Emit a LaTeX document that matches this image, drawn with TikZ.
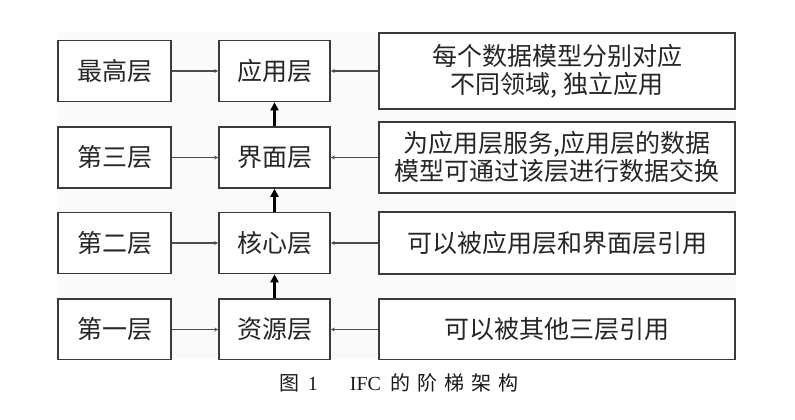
\documentclass[tikz,border=0pt]{standalone}
\usepackage{fontspec}
\setmainfont{Liberation Serif}
\newfontfamily\cjk{Noto Sans CJK SC}
\usetikzlibrary{arrows.meta}
\definecolor{boxline}{HTML}{3A3A3A}
\definecolor{bgfill}{HTML}{FAFAFA}
\begin{document}
\begin{tikzpicture}[x=1pt,y=-1pt,
  box/.style={draw=boxline, line width=1.6pt, fill=white, inner sep=0pt,
    font=\cjk\fontsize{25}{28}\selectfont, align=center, text=black!85},
  lbox/.style={box, minimum width=113pt, minimum height=61pt},
  mbox/.style={box, minimum width=111pt, minimum height=61pt},
  rbox/.style={box, minimum width=356pt},
  hline/.style={draw=black!70, line width=1.4pt, -{Stealth[length=4pt,width=4pt]}},
  vline/.style={draw=black, line width=2.4pt, -{Triangle[length=8pt,width=8pt]}},
  captext/.style={font=\fontsize{20}{24}\selectfont, text=black!90, inner sep=0pt}
]
\useasboundingbox (0,0) rectangle (795,420);
\fill[bgfill] (58,32) rectangle (736,359);
\begin{scope}
\clip (0,0) rectangle (795,359.5);
% left column
\node[lbox] (l1) at (114.5,71) {最高层};
\node[lbox] (l2) at (114.5,157.5) {第三层};
\node[lbox] (l3) at (114.5,243) {第二层};
\node[lbox] (l4) at (114.5,329.5) {第一层};
% middle column
\node[mbox] (m1) at (274.5,71) {应用层};
\node[mbox] (m2) at (274.5,157.5) {界面层};
\node[mbox] (m3) at (274.5,243) {核心层};
\node[mbox] (m4) at (274.5,329.5) {资源层};
% right column
\node[rbox, minimum height=76pt] (r1) at (557,71) {每个数据模型分别对应\\不同领域, 独立应用};
\node[rbox, minimum height=71pt] (r2) at (557,157.5) {为应用层服务,应用层的数据\\模型可通过该层进行数据交换};
\node[rbox, minimum height=62pt] (r3) at (557,243) {可以被应用层和界面层引用};
\node[rbox, minimum height=61pt] (r4) at (557,329.5) {可以被其他三层引用};
% connectors
\foreach \i in {1,2,3,4}{
  \draw[hline] (l\i) -- (m\i);
  \draw[hline] (r\i) -- (m\i);
}
\draw[vline] (m2) -- (m1);
\draw[vline] (m3) -- (m2);
\draw[vline] (m4) -- (m3);
\end{scope}
\node[captext] (cap) at (399,383) {{\cjk 图}\hspace{8pt}1\hspace{32pt}IFC\hspace{9pt}{\cjk 的\hspace{7pt}阶\hspace{7pt}梯\hspace{7pt}架\hspace{7pt}构}};
\end{tikzpicture}
\end{document}
